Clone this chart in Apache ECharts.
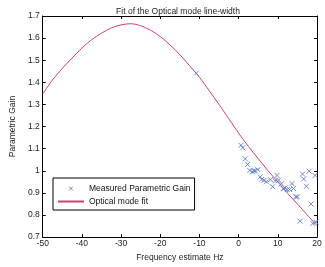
<!DOCTYPE html>
<html><head><meta charset="utf-8">
<script src="https://cdn.jsdelivr.net/npm/echarts@6/dist/echarts.min.js"></script>
<style>html,body{margin:0;padding:0;background:#fff}#c{width:325px;height:267px}</style>
</head><body><div id="c"></div>
<script>
const measuredX = [-10.8, 0.6, 1.05, 1.7, 2.3, 2.85, 3.5, 3.8, 4.2, 4.9, 5.5, 5.9, 6.5, 7.1, 8.1, 8.7, 9.3, 9.8, 10.2, 10.9, 11.4, 11.8, 12.4, 13.0, 13.6, 14.0, 14.6, 15.0, 15.7, 16.3, 16.6, 17.3, 18.0, 18.5, 18.95, 19.5, 19.7];
const measuredY = [1.441, 1.115, 1.104, 1.054, 1.029, 1.001, 0.995, 1.0, 1.0, 1.005, 0.972, 0.961, 0.957, 0.95, 0.96, 0.928, 0.955, 0.979, 0.958, 0.941, 0.919, 0.922, 0.915, 0.915, 0.942, 0.92, 0.882, 0.882, 0.772, 0.985, 0.963, 0.93, 0.998, 0.85, 0.762, 0.979, 0.768];
const fitX = [-50, -47.5, -45, -42.5, -40, -37.5, -35, -32.5, -30, -27.5, -25, -22.5, -20, -17.5, -15, -12.5, -10, -7.5, -5, -2.5, 0, 2.5, 5, 7.5, 10, 12.5, 15, 17.5, 20];
const fitY = [1.348, 1.411, 1.463, 1.51, 1.555, 1.593, 1.622, 1.646, 1.66, 1.665, 1.656, 1.636, 1.607, 1.569, 1.525, 1.475, 1.423, 1.362, 1.30, 1.235, 1.17, 1.11, 1.055, 1.0, 0.95, 0.898, 0.85, 0.80, 0.752];
const xTicks = [-50, -40, -30, -20, -10, 0, 10, 20];
const yTicks = [0.7, 0.8, 0.9, 1, 1.1, 1.2, 1.3, 1.4, 1.5, 1.6, 1.7];
const titleText = 'Fit of the Optical mode line-width';
const xName = 'Frequency estimate Hz';
const yName = 'Parametric Gain';
const seriesNames = ['Measured Parametric Gain', 'Optical mode fit'];

const font = 'Liberation Sans, Arial, sans-serif';
const blue = '#4d6fc4';
const red = '#c8426e';
const chart = echarts.init(document.getElementById('c'), null, {renderer: 'canvas'});
const xSym = 'path://M0,0L10,10M10,0L0,10';
const xIcon = 'path://M0,0L0.01,0M10.5,2.5L15.5,7.5M15.5,2.5L10.5,7.5M26,10L26.01,10';
const axisCommon = {
  axisLine: {show: true, onZero: false, lineStyle: {color: '#000', width: 1}},
  axisTick: {show: true, inside: true, length: 3, lineStyle: {color: '#000'}},
  splitLine: {show: false}
};
chart.setOption({
  animation: false,
  backgroundColor: '#fff',
  title: {text: titleText, left: 173, textAlign: 'center', top: 2,
    textStyle: {fontFamily: font, fontSize: 8.5, fontWeight: 'normal', color: '#222'}},
  grid: {left: 30, right: 8, top: 16, bottom: 24, containLabel: false},
  legend: {
    left: 53, top: 178, orient: 'vertical',
    backgroundColor: '#fff', borderColor: '#000', borderWidth: 1,
    padding: [4, 4, 4, 4], itemGap: 2, itemWidth: 26, itemHeight: 8,
    textStyle: {fontFamily: font, fontSize: 8.5, color: '#111'},
    data: [
      {name: seriesNames[0], icon: xIcon, itemStyle: {color: 'none', borderColor: blue, borderWidth: 1}},
      {name: seriesNames[1]}
    ]
  },
  xAxis: [
    Object.assign({type: 'value', min: xTicks[0], max: xTicks[xTicks.length - 1], interval: 10, position: 'bottom',
      name: xName, nameLocation: 'middle', nameGap: 11,
      nameTextStyle: {fontFamily: font, fontSize: 8.5, color: '#222'},
      axisLabel: {fontFamily: font, fontSize: 8.5, color: '#222', margin: 2}}, axisCommon),
    Object.assign({type: 'value', min: xTicks[0], max: xTicks[xTicks.length - 1], interval: 10, position: 'top',
      axisLabel: {show: false}}, axisCommon)
  ],
  yAxis: [
    Object.assign({type: 'value', min: yTicks[0], max: yTicks[yTicks.length - 1], interval: 0.1, position: 'left',
      name: yName, nameLocation: 'middle', nameGap: 25, nameRotate: 90,
      nameTextStyle: {fontFamily: font, fontSize: 8.5, color: '#222'},
      axisLabel: {fontFamily: font, fontSize: 8.5, color: '#222', margin: 3}}, axisCommon),
    Object.assign({type: 'value', min: yTicks[0], max: yTicks[yTicks.length - 1], interval: 0.1, position: 'right',
      axisLabel: {show: false}}, axisCommon)
  ],
  series: [
    {name: seriesNames[0], type: 'scatter', symbol: xSym, symbolSize: 5,
      itemStyle: {color: 'none', borderColor: blue, borderWidth: 1},
      data: measuredX.map((x, i) => [x, measuredY[i]]), z: 3},
    {name: seriesNames[1], type: 'line', symbol: 'circle', showSymbol: false, smooth: 0.3,
      lineStyle: {color: red, width: 1, opacity: 1},
      itemStyle: {color: red, opacity: 0},
      data: fitX.map((x, i) => [x, fitY[i]]), z: 2}
  ]
});
</script></body></html>
